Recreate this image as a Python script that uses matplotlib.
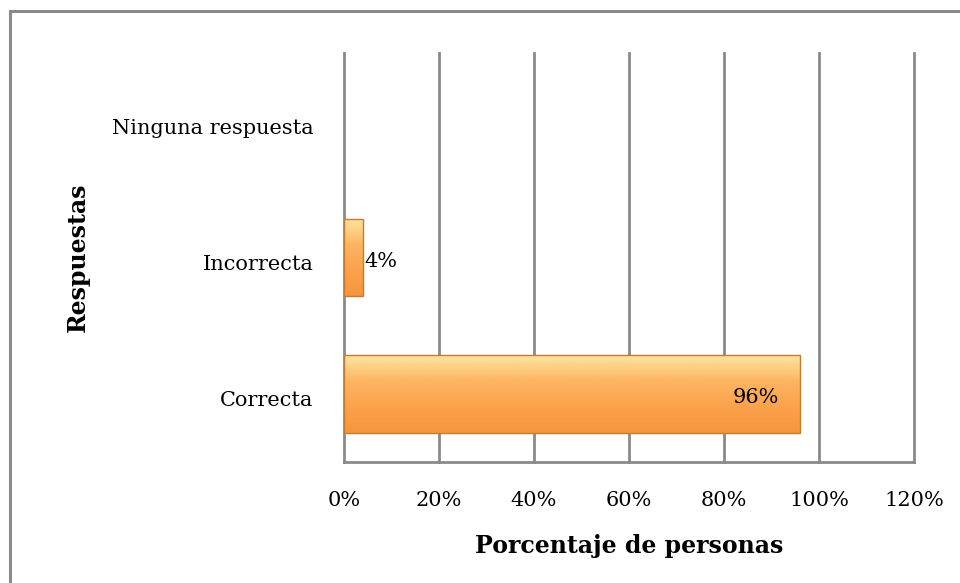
import numpy as np
import matplotlib.pyplot as plt
import matplotlib.transforms as mtransforms
from matplotlib.patches import Rectangle
from matplotlib.colors import LinearSegmentedColormap
from matplotlib.ticker import PercentFormatter

categories = ["Correcta", "Incorrecta", "Ninguna respuesta"]
values = [0.96, 0.04, 0.0]
labels = ["96%", "4%", ""]
xticks = [0, 0.2, 0.4, 0.6, 0.8, 1.0, 1.2]

plt.rcParams['font.family'] = ['DejaVu Serif']

fig = plt.figure(figsize=(9.6, 5.83), dpi=100)
ax = fig.add_axes([0.3583, 0.2075, 0.5938, 0.7016])

# outer frame of the chart area
fig.patches.append(Rectangle((10 / 960, -0.1), 1.2, 1 - 11 / 583 + 0.1,
                             transform=fig.transFigure, fill=False,
                             edgecolor="#8a8a8a", linewidth=2.2))

y = np.arange(len(categories))
bars = ax.barh(y, values, height=0.57, color="#fca650", edgecolor="none",
               linewidth=0, zorder=3)

# vertical gradient on each bar
grad = np.linspace(0, 1, 256).reshape(-1, 1)
cmap = LinearSegmentedColormap.from_list("orange", ["#fde6a0", "#fdb562", "#fba24c", "#f6963c"])
for b in bars:
    if b.get_width() <= 0:
        continue
    x0, y0 = b.get_x(), b.get_y()
    im = ax.imshow(grad, cmap=cmap, aspect="auto", origin="upper",
                   extent=[x0, x0 + b.get_width(), y0, y0 + b.get_height()],
                   zorder=3.5)
    im.set_clip_path(b)
    ax.add_patch(Rectangle((x0, y0), b.get_width(), b.get_height(), fill=False,
                           edgecolor="#c97a2c", linewidth=1.0, zorder=4))

shift = mtransforms.ScaledTranslation(0, -4 / 100, fig.dpi_scale_trans)
for v, yy, lab in zip(values, y, labels):
    if not lab:
        continue
    if v > 0.5:
        ax.text(v - 0.045, yy, lab, ha="right", va="center", fontsize=15, zorder=5,
                transform=ax.transData + shift)
    else:
        ax.text(v + 0.003, yy, lab, ha="left", va="center", fontsize=15, zorder=5,
                transform=ax.transData + shift)

ax.set_xlim(0, 1.2)
ax.set_ylim(-0.5, 2.5)
ax.set_xticks(xticks)
ax.xaxis.set_major_formatter(PercentFormatter(1.0, decimals=0))
ax.set_yticks(y)
ax.set_yticklabels(categories)
ax.tick_params(axis="both", length=0, labelsize=15)
ax.tick_params(axis="x", pad=21)
ax.tick_params(axis="y", pad=22)

yshift = mtransforms.ScaledTranslation(0, -5 / 100, fig.dpi_scale_trans)
for t in ax.get_yticklabels():
    t.set_transform(t.get_transform() + yshift)

ax.grid(axis="x", color="#8a8a8a", linewidth=2, zorder=0)
for gl in ax.get_xgridlines():
    gl.set_clip_on(False)
for s in ["top", "right", "left"]:
    ax.spines[s].set_visible(False)
ax.spines["bottom"].set_color("#8a8a8a")
ax.spines["bottom"].set_linewidth(2)

ax.set_xlabel("Porcentaje de personas", fontsize=17, fontweight="bold", labelpad=17)
ax.set_ylabel("Respuestas", fontsize=17, fontweight="bold", labelpad=16)

fig.savefig("out.png", dpi=100)
